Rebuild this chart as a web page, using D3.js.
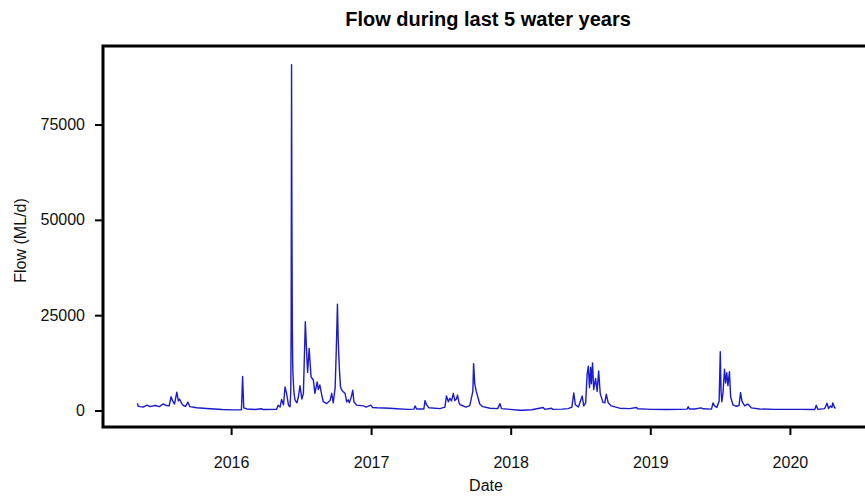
<!DOCTYPE html>
<html>
<head>
<meta charset="utf-8">
<script src="https://cdn.jsdelivr.net/npm/d3@7"></script>
<style>
  body { margin: 0; background: #fff; }
  svg { display: block; font-family: "Liberation Sans", Arial, sans-serif; }
  .axis text { font-size: 16px; fill: #111; }
  .axis line { stroke: #000; stroke-width: 2; }
  .axis path { display: none; }
  .chart-title { font-size: 20px; font-weight: bold; fill: #000; }
  .axis-title { font-size: 16px; fill: #111; }
  .chart-line { fill: none; stroke: #1a1acf; stroke-width: 1.4; stroke-linejoin: round; }
  .frame { fill: none; stroke: #000; stroke-width: 3; }
</style>
</head>
<body>
<svg id="chart"></svg>
<script>
// Daily flow (ML/d), key points only
const flowDates = [
  '2015-05-01','2015-05-03','2015-05-08','2015-05-16','2015-05-26','2015-06-03','2015-06-16','2015-06-27',
  '2015-07-07','2015-07-17','2015-07-23','2015-07-28','2015-08-02','2015-08-06','2015-08-12','2015-08-16',
  '2015-08-19','2015-08-25','2015-08-29','2015-09-04','2015-09-10','2015-09-15','2015-10-03','2015-11-07',
  '2015-12-08','2016-01-06','2016-01-28','2016-01-31','2016-02-03','2016-02-11','2016-03-04','2016-03-21',
  '2016-03-25','2016-04-29','2016-05-03','2016-05-08','2016-05-12','2016-05-17','2016-05-21','2016-05-25',
  '2016-05-30','2016-06-03','2016-06-05','2016-06-06','2016-06-07','2016-06-08','2016-06-09','2016-06-10',
  '2016-06-11','2016-06-13','2016-06-16','2016-06-21','2016-06-25','2016-06-29','2016-07-04','2016-07-08',
  '2016-07-13','2016-07-17','2016-07-19','2016-07-23','2016-07-28','2016-08-03','2016-08-07','2016-08-13',
  '2016-08-16','2016-08-20','2016-08-25','2016-08-29','2016-09-07','2016-09-16','2016-09-20','2016-09-24',
  '2016-09-29','2016-10-02','2016-10-05','2016-10-07','2016-10-10','2016-10-13','2016-10-16','2016-10-20',
  '2016-10-25','2016-10-29','2016-11-02','2016-11-05','2016-11-10','2016-11-14','2016-11-17','2016-11-24',
  '2016-12-12','2016-12-19','2016-12-31','2017-01-05','2017-01-16','2017-02-19','2017-03-09','2017-04-07',
  '2017-04-23','2017-04-26','2017-04-30','2017-05-19','2017-05-22','2017-05-26','2017-06-01','2017-06-30',
  '2017-07-13','2017-07-17','2017-07-22','2017-07-26','2017-07-30','2017-08-04','2017-08-08','2017-08-12',
  '2017-08-15','2017-08-19','2017-08-22','2017-09-06','2017-09-16','2017-09-24','2017-09-26','2017-09-29',
  '2017-10-03','2017-10-08','2017-10-12','2017-10-20','2017-11-08','2017-11-28','2017-12-04','2017-12-08',
  '2017-12-30','2018-01-25','2018-02-02','2018-02-25','2018-03-27','2018-03-31','2018-04-18','2018-04-21',
  '2018-05-15','2018-05-31','2018-06-10','2018-06-15','2018-06-19','2018-06-27','2018-07-07','2018-07-11',
  '2018-07-16','2018-07-20','2018-07-23','2018-07-26','2018-07-29','2018-07-31','2018-08-03','2018-08-06',
  '2018-08-11','2018-08-15','2018-08-19','2018-08-23','2018-08-30','2018-09-04','2018-09-08','2018-09-13',
  '2018-09-21','2018-10-03','2018-10-13','2018-11-08','2018-11-26','2018-11-29','2018-12-22','2019-01-05',
  '2019-02-13','2019-03-19','2019-04-07','2019-04-10','2019-04-13','2019-04-27','2019-05-14','2019-05-18',
  '2019-06-10','2019-06-14','2019-06-18','2019-06-24','2019-06-30','2019-07-03','2019-07-05','2019-07-07',
  '2019-07-10','2019-07-14','2019-07-17','2019-07-20','2019-07-23','2019-07-27','2019-07-30','2019-08-05',
  '2019-08-14','2019-08-21','2019-08-25','2019-08-29','2019-09-05','2019-09-13','2019-09-22','2019-10-14',
  '2019-11-22','2019-12-22','2020-01-26','2020-03-06','2020-03-10','2020-03-14','2020-04-01','2020-04-07',
  '2020-04-11','2020-04-16','2020-04-20','2020-04-22','2020-04-27','2020-04-30'
];

const flowValues = [
  1900, 1100, 1000, 900, 1400, 1000, 1300, 1000,
  1700, 1300, 1200, 3600, 2300, 1700, 4800, 2500,
  3000, 1800, 1300, 1100, 2200, 1000, 730, 470,
  250, 150, 180, 8900, 700, 400, 250, 450,
  250, 300, 1400, 900, 2900, 1500, 6200, 4500,
  1400, 1000, 5000, 22400, 90700, 49200, 22500, 12000,
  9000, 5000, 2800, 2000, 3600, 6500, 3000, 4500,
  23300, 14000, 10000, 16300, 8800, 8000, 4500, 7500,
  5500, 6700, 4000, 2300, 1800, 2700, 4500, 2000,
  6000, 16000, 27900, 18500, 11000, 6200, 5400, 4900,
  4500, 2300, 2800, 2000, 3500, 5300, 2300, 1400,
  1200, 900, 1400, 800, 700, 580, 450, 300,
  350, 1200, 400, 400, 2600, 1500, 700, 500,
  900, 3800, 2300, 3200, 2500, 4500, 2600, 3000,
  4000, 2000, 1500, 900, 1300, 5000, 12300, 7000,
  5000, 3200, 1700, 1000, 600, 500, 1800, 500,
  300, 80, 50, 200, 800, 300, 600, 300,
  350, 500, 900, 4600, 1500, 900, 3800, 1200,
  2000, 9700, 11600, 6000, 11300, 7000, 12500, 5500,
  8400, 5000, 10400, 4500, 2200, 2000, 4300, 2000,
  1200, 900, 600, 500, 800, 450, 350, 300,
  250, 300, 350, 1000, 400, 400, 700, 450,
  350, 2000, 1200, 800, 2500, 15400, 5000, 2300,
  4500, 10800, 7200, 9900, 6500, 10200, 3600, 1500,
  1100, 1300, 4700, 2300, 1200, 1700, 700, 400,
  300, 300, 280, 250, 1350, 300, 500, 1900,
  500, 1200, 800, 2000, 700, 600
];

const yTickValues = [0, 25000, 50000, 75000];
const xTickYears = [2016, 2017, 2018, 2019, 2020];
const xDomainDates = ['2015-01-31', '2020-07-18'];
const yDomain = [-4330, 95600];

const chartTitle = 'Flow during last 5 water years';
const xTitle = 'Date';
const yTitle = 'Flow (ML/d)';

class FlowLineChart {

  constructor(_config, _data) {
    this.config = {
      parentElement: _config.parentElement,
      containerWidth: _config.containerWidth || 865,
      containerHeight: _config.containerHeight || 496,
      margin: _config.margin || {top: 46, right: 0, bottom: 69, left: 103}
    }
    this.data = _data;
    this.initVis();
  }

  initVis() {
    let vis = this;

    vis.width = 763;
    vis.height = vis.config.containerHeight - vis.config.margin.top - vis.config.margin.bottom;

    const parseDate = d3.timeParse('%Y-%m-%d');

    vis.xScale = d3.scaleTime()
        .domain(xDomainDates.map(parseDate))
        .range([0, vis.width]);

    vis.yScale = d3.scaleLinear()
        .domain(yDomain)
        .range([vis.height, 0]);

    vis.xAxis = d3.axisBottom(vis.xScale)
        .tickValues(xTickYears.map(y => new Date(y, 0, 1)))
        .tickSize(8)
        .tickPadding(22)
        .tickFormat(d3.timeFormat('%Y'));

    vis.yAxis = d3.axisLeft(vis.yScale)
        .tickValues(yTickValues)
        .tickSize(8)
        .tickPadding(10)
        .tickFormat(d3.format('d'));

    vis.svg = d3.select(vis.config.parentElement)
        .attr('width', vis.config.containerWidth)
        .attr('height', vis.config.containerHeight);

    vis.chart = vis.svg.append('g')
        .attr('transform', `translate(${vis.config.margin.left},${vis.config.margin.top})`);

    vis.xAxisG = vis.chart.append('g')
        .attr('class', 'axis x-axis')
        .attr('transform', `translate(0,${vis.height})`);

    vis.yAxisG = vis.chart.append('g')
        .attr('class', 'axis y-axis');

    vis.marks = vis.chart.append('g');

    // box round the plot, right side runs off the picture
    vis.chart.append('rect')
        .attr('class', 'frame')
        .attr('x', 0)
        .attr('y', 0)
        .attr('width', vis.width + 5)
        .attr('height', vis.height);

    vis.svg.append('text')
        .attr('class', 'chart-title')
        .attr('x', vis.config.margin.left + 385)
        .attr('y', 26)
        .attr('text-anchor', 'middle')
        .text(chartTitle);

    vis.svg.append('text')
        .attr('class', 'axis-title')
        .attr('x', vis.config.margin.left + 383)
        .attr('y', 491)
        .attr('text-anchor', 'middle')
        .text(xTitle);

    vis.svg.append('text')
        .attr('class', 'axis-title')
        .attr('transform', `translate(20,${vis.config.margin.top + vis.height / 2 + 4}) rotate(-90)`)
        .attr('dy', '0.35em')
        .attr('text-anchor', 'middle')
        .text(yTitle);
  }

  updateVis() {
    let vis = this;

    vis.xValue = d => d.date;
    vis.yValue = d => d.flow;

    vis.line = d3.line()
        .x(d => vis.xScale(vis.xValue(d)))
        .y(d => vis.yScale(vis.yValue(d)));

    vis.renderVis();
  }

  renderVis() {
    let vis = this;

    vis.marks.selectAll('.chart-line')
        .data([vis.data])
      .join('path')
        .attr('class', 'chart-line')
        .attr('d', vis.line);

    vis.xAxisG.call(vis.xAxis);
    vis.yAxisG.call(vis.yAxis);
  }
}

const parseDay = d3.timeParse('%Y-%m-%d');
const flowData = flowDates.map((d, i) => ({ date: parseDay(d), flow: flowValues[i] }));

const flowChart = new FlowLineChart({ parentElement: '#chart' }, flowData);
flowChart.updateVis();
</script>
</body>
</html>
